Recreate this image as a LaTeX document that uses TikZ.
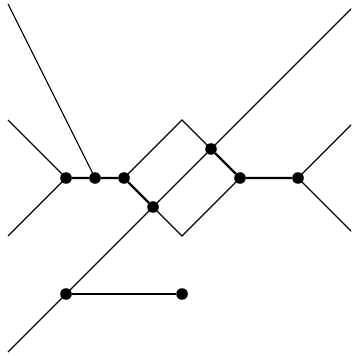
\documentclass[tikz,border=0pt]{standalone}
\begin{document}
\begin{tikzpicture}[
  dot/.style={circle,fill=black,inner sep=0pt,minimum size=0.4cm},
  thin edge/.style={line width=1.1pt},
  thick edge/.style={line width=2.2pt}]
\useasboundingbox (-2.276,-6.138) rectangle (9.828,6.138);
\clip (-2.276,-6.138) rectangle (9.828,6.138);
% free ends
\coordinate (l1) at (-2,2);
\coordinate (l2) at (-2,-2);
\coordinate (t1) at (-2,6);
\coordinate (dtop) at (4,2);
\coordinate (dbot) at (4,-2);
\coordinate (bl) at (-2,-6);
\coordinate (tr) at (10,6);
\coordinate (r1) at (10,2);
\coordinate (r2) at (10,-2);
% nodes
\node[dot] (A) at (0,0) {};
\node[dot] (B) at (1,0) {};
\node[dot] (C) at (2,0) {};
\node[dot] (D) at (3,-1) {};
\node[dot] (E) at (5,1) {};
\node[dot] (F) at (6,0) {};
\node[dot] (G) at (8,0) {};
\node[dot] (H) at (0,-4) {};
\node[dot] (I) at (4,-4) {};
% thin lines
\draw[thin edge] (l1) -- (A.center) -- (l2);
\draw[thin edge] (t1) -- (B.center);
\draw[thin edge] (C.center) -- (dtop) -- (E.center);
\draw[thin edge] (F.center) -- (dbot) -- (D.center);
\draw[thin edge] (bl) -- (H.center) -- (D.center) -- (E.center) -- (tr);
\draw[thin edge] (r1) -- (G.center) -- (r2);
% thick lines
\draw[thick edge] (A) -- (B) -- (C) -- (D);
\draw[thick edge] (E) -- (F) -- (G);
\draw[thick edge] (H) -- (I);
\end{tikzpicture}
\end{document}
